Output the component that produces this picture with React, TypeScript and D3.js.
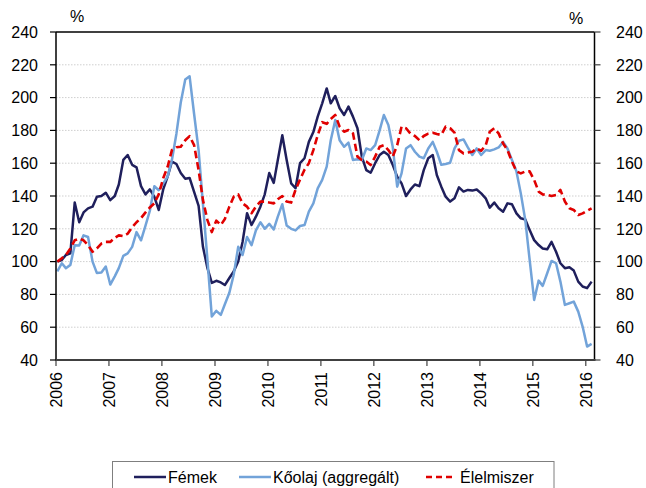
import React from "react";
import * as d3 from "d3";

const yearTicks = [2006, 2007, 2008, 2009, 2010, 2011, 2012, 2013, 2014, 2015, 2016];
const yTicks = [40, 60, 80, 100, 120, 140, 160, 180, 200, 220, 240];
const seriesNames = ["Fémek", "Kőolaj (aggregált)", "Élelmiszer"];

// monthly, Jan 2006 – Feb 2016
const femek = [
  100, 101, 104, 105, 136, 124, 130, 132.5, 133.5, 139.5, 140, 142,
  137.5, 140, 147, 162, 165, 159, 157.5, 146, 141, 144, 139.5, 131.5,
  144, 152, 161, 159.5, 154, 150.5, 151, 142.5, 134, 109, 96, 87,
  88.3, 87.3, 85.7, 90, 94, 100, 112, 129.5, 122.3, 127.4, 133.5, 141,
  154, 148, 162, 177, 162, 147.7, 144.7, 160, 163, 173, 179, 188.4,
  196.5, 205.6, 196.5, 201, 193.5, 189.4, 194.5, 188.4, 181.3, 164, 155.8, 154.2,
  160, 165, 167, 165, 159, 151.8, 147.7, 140, 144, 147, 146, 155.8,
  163, 165, 152.8, 145.7, 139.6, 136.6, 138.6, 145.3, 142.7, 143.7, 143.3, 144,
  141.6, 138.6, 132.9, 136, 132.5, 130.4, 135.5, 135, 129.4, 126.4, 125.7, 119.2,
  113.1, 110.1, 108, 107.5, 112, 106, 99, 96, 96.5, 94.5, 87.8, 84.8,
  83.8, 87.8,
];

const koolaj = [
  94, 99, 96, 98, 110, 109.8, 116, 115, 100, 93, 93.3, 97,
  86, 91, 96, 103.5, 105, 109, 118, 113, 122, 131, 146, 143.5,
  147.5, 152, 162, 178, 197, 211, 213, 190, 168, 135, 101, 66.5,
  70, 67.5, 74, 81, 92, 109, 104, 115, 110, 119, 124, 120,
  123, 119.6, 127.4, 135, 122, 120, 119, 121.7, 122.3, 130.5, 135.5, 144.7,
  149.8, 157.9, 174, 186.4, 174, 170, 172.5, 162, 162.4, 162, 169, 168,
  171, 180, 189.4, 183.3, 170, 145.7, 153.8, 169, 171, 167, 164, 163,
  169, 173, 167, 159, 159.5, 160.3, 169, 173.7, 174.5, 169.6, 165, 169,
  165, 168, 167.6, 168.4, 169.6, 173, 169, 162, 155, 141.6, 125.3, 101,
  76.6, 88.4, 85.2, 92.9, 100.4, 99, 87.8, 73.6, 74.6, 75.6, 69.5, 60.4,
  48.2, 49.8,
];

const elelmiszer = [
  100, 102, 104, 108, 113, 114, 113, 110, 106, 108, 111, 112,
  112, 114.5, 116, 115.5, 117, 121, 124, 126.5, 130, 133, 135.5, 141,
  150.8, 158, 168, 169.7, 170, 174, 176.5, 171, 155.8, 137.5, 125.3, 118,
  125, 122.3, 126, 133.5, 139.6, 141, 135.5, 133.5, 129.5, 133.5, 136.6, 136.6,
  136, 135.5, 138, 140, 136.6, 136, 143.7, 150, 156, 160, 168, 177,
  185, 184, 187, 189.4, 182.3, 179.2, 180.2, 178.2, 164, 162, 161, 158.9,
  164, 170, 171, 168, 164, 171, 182.3, 181.3, 178, 176.6, 174, 176.6,
  178, 178.6, 177.8, 177.2, 182.3, 181.3, 178.6, 168, 166, 166.5, 167, 169,
  167.6, 171, 179.2, 181.3, 178.2, 172, 168, 160.9, 155, 153.8, 155, 155,
  149.8, 142.7, 141, 140.6, 140, 140.6, 143.7, 136.6, 132.5, 131.5, 128.4, 129.4,
  131, 132.5,
];

const colors = ["#1f1f5c", "#72a3d9", "#e00000"];

export default function App() {
  const W = 646;
  const H = 488;
  const left = 56;
  const right = 594.5;
  const top = 32;
  const bottom = 360;

  const x = d3
    .scaleTime()
    .domain([new Date(2006, 0, 1), new Date(2016, 2, 1)])
    .range([left, right]);
  const y = d3.scaleLinear().domain([40, 240]).range([bottom, top]);

  const dates = femek.map((_, i) => new Date(2006, i, 10));
  const line = d3
    .line<number>()
    .x((_, i) => x(dates[i]))
    .y((d) => y(d));

  const font = "'Liberation Sans', Arial, sans-serif";
  const series = [femek, koolaj, elelmiszer];

  return (
    <svg
      width={W}
      height={H}
      style={{ position: "absolute", left: 0, top: 0, background: "#fff" }}
      fontFamily={font}
    >
      {/* gridlines */}
      {yTicks
        .filter((t) => t > 40 && t < 240)
        .map((t) => (
          <line
            key={"g" + t}
            x1={left}
            x2={right}
            y1={y(t)}
            y2={y(t)}
            stroke="#cfcfcf"
            strokeWidth={1}
            strokeDasharray="1.5,1.5"
          />
        ))}

      {/* series */}
      {series.map((s, k) => (
        <path
          key={"s" + k}
          d={line(s) || ""}
          fill="none"
          stroke={colors[k]}
          strokeWidth={k === 2 ? 2.6 : 2.5}
          strokeDasharray={k === 2 ? "7.5,4" : undefined}
          strokeLinejoin="round"
        />
      ))}

      {/* frame */}
      <line x1={left} x2={right} y1={top} y2={top} stroke="#000" strokeWidth={1.5} />
      <line x1={left} x2={left} y1={top} y2={bottom} stroke="#000" strokeWidth={1.5} />
      <line x1={right} x2={right} y1={top} y2={bottom} stroke="#000" strokeWidth={1.5} />
      <line x1={left - 1} x2={right + 1} y1={bottom} y2={bottom} stroke="#404040" strokeWidth={2} />

      {/* y ticks and labels */}
      {yTicks.map((t) => (
        <g key={"y" + t}>
          <line x1={left - 6} x2={left} y1={y(t)} y2={y(t)} stroke="#000" strokeWidth={1.2} />
          <line x1={right} x2={right + 6} y1={y(t)} y2={y(t)} stroke="#404040" strokeWidth={1.2} />
          <text x={38} y={y(t)} dy="0.36em" textAnchor="end" fontSize={16} fill="#000">
            {t}
          </text>
          <text x={616} y={y(t)} dy="0.36em" textAnchor="start" fontSize={16} fill="#000">
            {t}
          </text>
        </g>
      ))}

      {/* x ticks and labels */}
      {yearTicks.map((yr) => {
        const xp = x(new Date(yr, 0, 1));
        return (
          <g key={"x" + yr}>
            <line x1={xp} x2={xp} y1={bottom} y2={bottom + 6} stroke="#404040" strokeWidth={1.2} />
            <text
              transform={`translate(${xp + 5.8},${bottom + 12}) rotate(-90)`}
              textAnchor="end"
              fontSize={16}
              fill="#000"
            >
              {yr}
            </text>
          </g>
        );
      })}

      {/* % labels */}
      <text x={77} y={22} textAnchor="middle" fontSize={16} fill="#000">%</text>
      <text x={576} y={24} textAnchor="middle" fontSize={16} fill="#000">%</text>

      {/* legend */}
      <rect x={112.5} y={461.5} width={441.5} height={40} fill="#fff" stroke="#7f7f7f" strokeWidth={1} />
      {seriesNames.map((name, k) => {
        const lx = [134, 239, 426][k];
        const lw = [32, 32, 28][k];
        const tx = [168, 273, 460][k];
        return (
          <g key={"l" + k}>
            <line
              x1={lx}
              x2={lx + lw}
              y1={477}
              y2={477}
              stroke={colors[k]}
              strokeWidth={2.5}
              strokeDasharray={k === 2 ? "6,4" : undefined}
            />
            <text x={tx} y={482.5} fontSize={16} fill="#000">
              {name}
            </text>
          </g>
        );
      })}
    </svg>
  );
}
